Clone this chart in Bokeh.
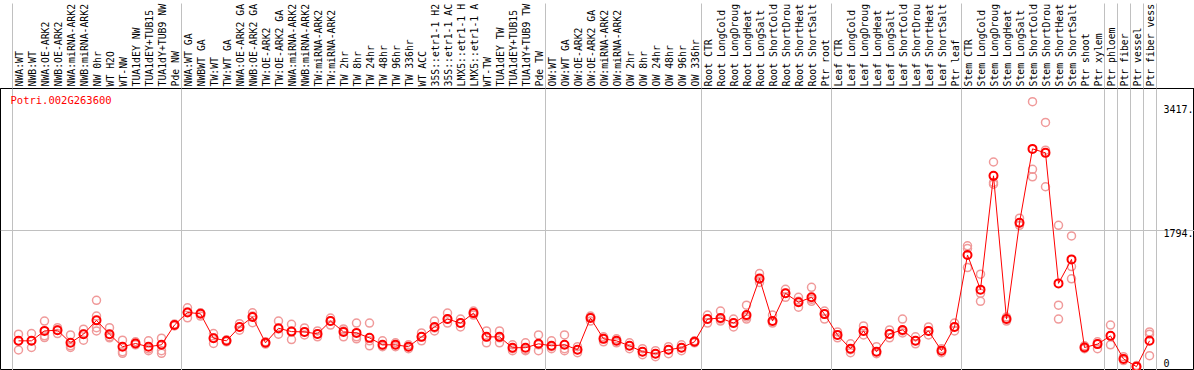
import math
from bokeh.plotting import figure
from bokeh.models import Range1d, FixedTicker, Label
from bokeh.core.properties import value
from bokeh.embed import file_html
from bokeh.resources import INLINE

gene = "Potri.002G263600"

samples = [
    "NWA:WT", "NWB:WT", "NWA:OE-ARK2", "NWB:OE-ARK2", "NWA:miRNA-ARK2", "NWB:miRNA-ARK2",
    "NW 0hr", "WT H2O", "WT-NW", "TUA1dEY NW", "TUA1dEY+TUB15", "TUA1dY+TUB9 NW", "Pde NW",
    "NWA:WT GA", "NWBWT GA", "TW:WT", "TW:WT GA", "NWA:OE-ARK2 GA", "NWB:OE-ARK2 GA",
    "TW:OE-ARK2", "TW:OE-ARK2 GA", "NWA:miRNA-ARK2", "NWB:miRNA-ARK2", "TW:miRNA-ARK2",
    "TW:miRNA-ARK2", "TW 2hr", "TW 8hr", "TW 24hr", "TW 48hr", "TW 96hr", "TW 336hr",
    "WT ACC", "35S::etr1-1 H2", "35S::etr1-1 AC", "LMX5::etr1-1 H", "LMX5::etr1-1 A",
    "WT-TW", "TUA1dEY TW", "TUA1dEY+TUB15", "TUA1dY+TUB9 TW", "Pde TW",
    "OW:WT", "OW:WT GA", "OW:OE-ARK2", "OW:OE-ARK2 GA", "OW:miRNA-ARK2", "OW:miRNA-ARK2",
    "OW 2hr", "OW 8hr", "OW 24hr", "OW 48hr", "OW 96hr", "OW 336hr",
    "Root CTR", "Root LongCold", "Root LongDroug", "Root LongHeat", "Root LongSalt",
    "Root ShortCold", "Root ShortDrou", "Root ShortHeat", "Root ShortSalt", "Ptr root",
    "Leaf CTR", "Leaf LongCold", "Leaf LongDroug", "Leaf LongHeat", "Leaf LongSalt",
    "Leaf ShortCold", "Leaf ShortDrou", "Leaf ShortHeat", "Leaf ShortSalt", "Ptr leaf",
    "Stem CTR", "Stem LongCold", "Stem LongDroug", "Stem LongHeat", "Stem LongSalt",
    "Stem ShortCold", "Stem ShortDrou", "Stem ShortHeat", "Stem ShortSalt", "Ptr shoot",
    "Ptr xylem", "Ptr phloem", "Ptr fiber", "Ptr vessel", "Ptr fiber vess",
]

means = [
    343, 343, 473, 482, 317, 430, 611, 430, 266, 308,
    266, 291, 550, 715, 697, 378, 343, 525, 654, 317,
    508, 464, 460, 434, 602, 460, 447, 382, 291, 291,
    266, 395, 525, 628, 576, 706, 395, 395, 253, 253,
    304, 278, 291, 227, 641, 369, 343, 278, 201, 175,
    227, 253, 330, 628, 641, 576, 680, 1159, 602, 965,
    848, 913, 693, 421, 240, 473, 201, 434, 486, 343,
    473, 214, 525, 1466, 1013, 2503, 628, 1889, 2856, 2804,
    1095, 1409, 256, 300, 408, 106, 5, 343,
]

replicates = [
    [430, 223, 343], [438, 256, 343], [602, 408, 386], [515, 438, 486], [421, 278, 256],
    [495, 352, 434], [874, 667, 515, 473], [515, 395, 382], [352, 201, 179], [308, 330, 291],
    [343, 236, 214], [378, 214, 179], [550, 563, 538], [775, 645, 719], [710, 667, 706],
    [438, 308, 382], [356, 330, 343], [567, 482, 525], [710, 580, 667], [300, 330, 317],
    [602, 430, 499], [560, 360, 473], [512, 421, 460], [473, 395, 434], [641, 550, 602],
    [499, 395, 473], [576, 395, 369], [576, 343, 278], [343, 266, 278], [317, 266, 291],
    [291, 240, 266], [447, 343, 395], [602, 473, 512], [706, 576, 628], [628, 525, 576],
    [732, 680, 706], [473, 317, 395], [473, 317, 382], [291, 214, 240], [317, 214, 227],
    [421, 214, 291], [343, 240, 266], [421, 240, 214], [266, 188, 227], [667, 602, 654],
    [395, 330, 369], [369, 317, 343], [317, 240, 278], [240, 162, 201], [214, 136, 175],
    [266, 175, 227], [291, 214, 253], [343, 317, 330], [680, 576, 628], [732, 602, 628],
    [628, 525, 576], [810, 628, 654], [1224, 1107, 1146], [680, 576, 602], [1017, 913, 965],
    [913, 784, 861], [1043, 861, 887], [732, 628, 693], [460, 382, 421], [304, 188, 227],
    [538, 421, 473], [266, 175, 201], [486, 382, 434], [628, 447, 473], [395, 304, 343],
    [525, 421, 473], [240, 188, 214], [576, 473, 525], [1587, 1552, 1302], [1215, 861, 965],
    [2684, 2416, 2394], [654, 602, 628], [1949, 1855, 1885], [3474, 2588, 2490], [3202, 2839, 2360],
    [1855, 810, 628], [1716, 1315, 1155], [278, 240, 266], [240, 304, 330], [550, 291, 408],
    [136, 84, 110], [19, 6, 0], [460, 430, 149],
]

group_breaks = [0, 13, 41, 53, 63, 73, 84, 85, 86, 87, 88]
y_ticks = [1794, 3417]
y_tick_labels = ["1794.", "3417."]
y_zero = [0]
y_zero_label = ["0"]

n = len(samples)
xs = list(range(1, n + 1))
rep_x = [xs[i] for i, r in enumerate(replicates) for _ in r]
rep_y = [v for r in replicates for v in r]
sep = [b + 0.5 for b in group_breaks]

LABEL_NUDGE = 0.08
label_pos = [x + LABEL_NUDGE for x in xs]

W, H = 1194, 370
TOP = 85
p = figure(width=W, height=H, output_backend="svg", toolbar_location=None,
           x_range=Range1d(-5 / 13, 1189 / 13), y_range=Range1d(-45.3, 3646.4),
           x_axis_location="above", y_axis_location=None,
           min_border_left=0, min_border_right=0, min_border_bottom=0, min_border_top=TOP,
           background_fill_color="white", border_fill_color="white")
p.outline_line_color = "black"
p.outline_line_width = 1

ax = p.xaxis[0]
ax.ticker = FixedTicker(ticks=label_pos, minor_ticks=sep)
ax.major_label_overrides = {x: s for x, s in zip(label_pos, samples)}
ax.major_label_orientation = math.pi / 2
ax.major_tick_out = 0
ax.major_tick_in = 0
ax.minor_tick_in = 0
ax.minor_tick_out = TOP
ax.minor_tick_line_color = "#c0c0c0"
ax.axis_line_color = "black"
ax.major_label_standoff = -(TOP - 2)
ax.major_label_text_font = "DejaVu Sans Mono"
ax.major_label_text_font_size = "9.8px"
ax.major_label_text_color = "black"

p.xgrid.ticker = FixedTicker(ticks=sep)
p.xgrid.grid_line_color = "#c0c0c0"
p.ygrid.ticker = FixedTicker(ticks=[1794])
p.ygrid.grid_line_color = "#c0c0c0"

p.scatter(rep_x, rep_y, marker="circle", size=8, fill_color=None,
          line_color="#f09a9a", line_width=1.5)
p.line(xs, means, line_color="red", line_width=1)
p.scatter(xs, means, marker="circle", size=8, fill_color=None,
          line_color="red", line_width=2)

lx = n + 1.08
p.text([lx] * len(y_ticks), y_ticks, text=y_tick_labels, text_baseline="top",
       text_align="left", text_font=value("DejaVu Sans Mono"), text_font_size="10px",
       text_color="black", y_offset=-1)
p.text([lx], y_zero, text=y_zero_label, text_baseline="bottom",
       text_align="left", text_font=value("DejaVu Sans Mono"), text_font_size="10px",
       text_color="black")

p.add_layout(Label(x=10, y=H - TOP - 8, x_units="screen", y_units="screen", text=gene,
                   text_baseline="top", text_color="red", text_font="DejaVu Sans Mono",
                   text_font_size="10.5px"))

open("out.html", "w").write(file_html(p, INLINE))
